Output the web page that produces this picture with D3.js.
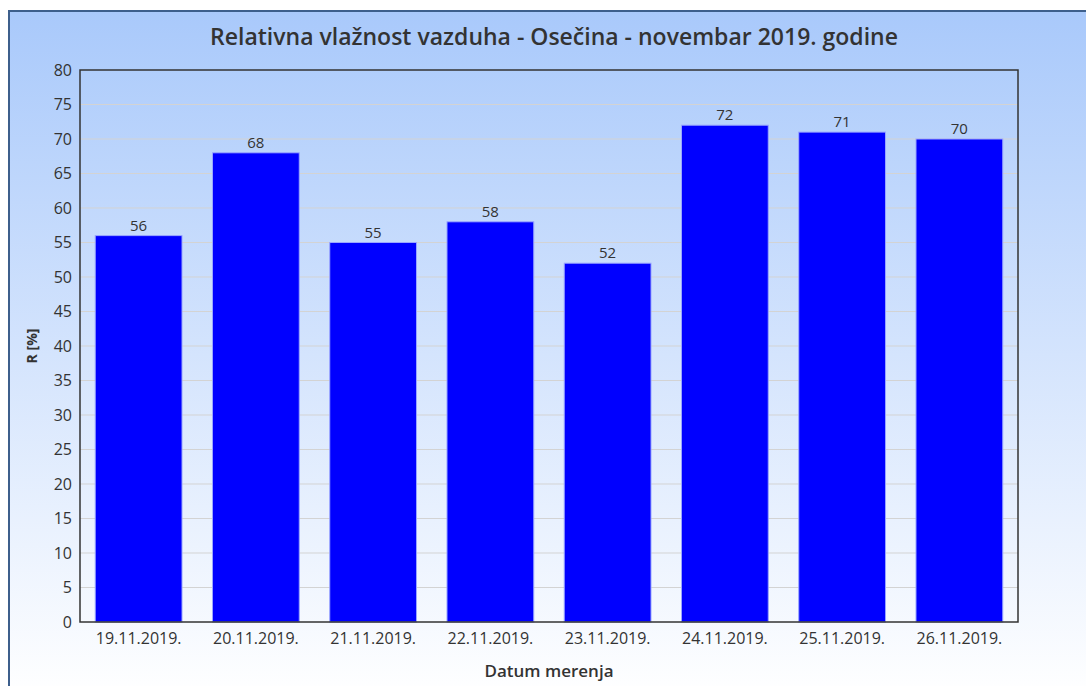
<!DOCTYPE html>
<html>
<head>
<meta charset="utf-8">
<script src="https://cdn.jsdelivr.net/npm/d3@7"></script>
<style>
  body { margin: 0; background: #fff; }
  text { font-family: "Open Sans", "Noto Sans", sans-serif; fill: #333; }
  .tick line { stroke: none; }
  .domain { stroke: none; }
</style>
</head>
<body>
<div id="chart"></div>
<script>
// data
const dates = ["19.11.2019.", "20.11.2019.", "21.11.2019.", "22.11.2019.",
    "23.11.2019.", "24.11.2019.", "25.11.2019.", "26.11.2019."];
const humidity = [56, 68, 55, 58, 52, 72, 71, 70];
const yTicks = d3.range(0, 81, 5);

const svgWidth = 1086,
    svgHeight = 686,
    margin = { top: 70, right: 68, bottom: 64, left: 80 },
    width = svgWidth - margin.left - margin.right,
    height = svgHeight - margin.top - margin.bottom;

let svg = d3.select("#chart").append("svg")
    .attr("width", svgWidth)
    .attr("height", svgHeight);

// background gradient
let grad = svg.append("defs").append("linearGradient")
    .attr("id", "bg")
    .attr("x1", 0).attr("y1", 0).attr("x2", 0).attr("y2", 1);
grad.append("stop").attr("offset", "0%").attr("stop-color", "#a9c9fb");
grad.append("stop").attr("offset", "100%").attr("stop-color", "#ffffff");

svg.append("rect")
    .attr("x", 9).attr("y", 11)
    .attr("width", svgWidth).attr("height", svgHeight)
    .attr("fill", "url(#bg)")
    .attr("stroke", "#3d5f8c")
    .attr("stroke-width", 2);

let g = svg.append("g")
    .attr("transform", `translate(${margin.left},${margin.top})`);

// scales
let x = d3.scaleBand()
    .domain(dates)
    .range([0, width])
    .paddingInner(0.26)
    .paddingOuter(0.13);
let y = d3.scaleLinear()
    .domain([0, 80])
    .range([height, 0]);

// gridlines
g.append("g")
    .selectAll("line")
    .data(yTicks.slice(1, -1))
    .join("line")
    .attr("x1", 0).attr("x2", width)
    .attr("y1", d => y(d)).attr("y2", d => y(d))
    .attr("stroke", "#d3d3d3")
    .attr("stroke-width", 1);

// bars
g.selectAll("rect.bar")
    .data(humidity)
    .join("rect")
    .attr("class", "bar")
    .attr("x", (d, i) => x(dates[i]))
    .attr("y", d => y(d))
    .attr("width", x.bandwidth())
    .attr("height", d => height - y(d))
    .attr("fill", "#0000ff")
    .attr("stroke", "#9aa6ff")
    .attr("stroke-width", 1);

// value labels
g.selectAll("text.val")
    .data(humidity)
    .join("text")
    .attr("class", "val")
    .attr("x", (d, i) => x(dates[i]) + x.bandwidth() / 2)
    .attr("y", d => y(d) - 5)
    .attr("text-anchor", "middle")
    .style("font-size", "15px")
    .text(d => d);

// plot frame
g.append("rect")
    .attr("width", width).attr("height", height)
    .attr("fill", "none")
    .attr("stroke", "#333")
    .attr("stroke-width", 1.5);

// axes
let yAxis = g.append("g")
    .call(d3.axisLeft(y).tickValues(yTicks).tickSize(0).tickPadding(8));
yAxis.selectAll("text").style("font-size", "16px").attr("fill", "#333");

let xAxis = g.append("g")
    .attr("transform", `translate(0,${height})`)
    .call(d3.axisBottom(x).tickSize(0).tickPadding(11));
xAxis.selectAll("text").style("font-size", "16px").attr("fill", "#333");

// axis labels
svg.append("text")
    .attr("transform", `translate(37,${margin.top + height / 2}) rotate(-90)`)
    .attr("text-anchor", "middle")
    .style("font-size", "14px")
    .style("font-weight", "bold")
    .text("R [%]");

svg.append("text")
    .attr("x", margin.left + width / 2)
    .attr("y", 677)
    .attr("text-anchor", "middle")
    .style("font-size", "17px")
    .style("font-weight", "600")
    .text("Datum merenja");

// title
svg.append("text")
    .attr("x", margin.left + width / 2 + 5)
    .attr("y", 45)
    .attr("text-anchor", "middle")
    .style("font-size", "23px")
    .style("font-weight", "600")
    .text("Relativna vlažnost vazduha - Osečina - novembar 2019. godine");
</script>
</body>
</html>
